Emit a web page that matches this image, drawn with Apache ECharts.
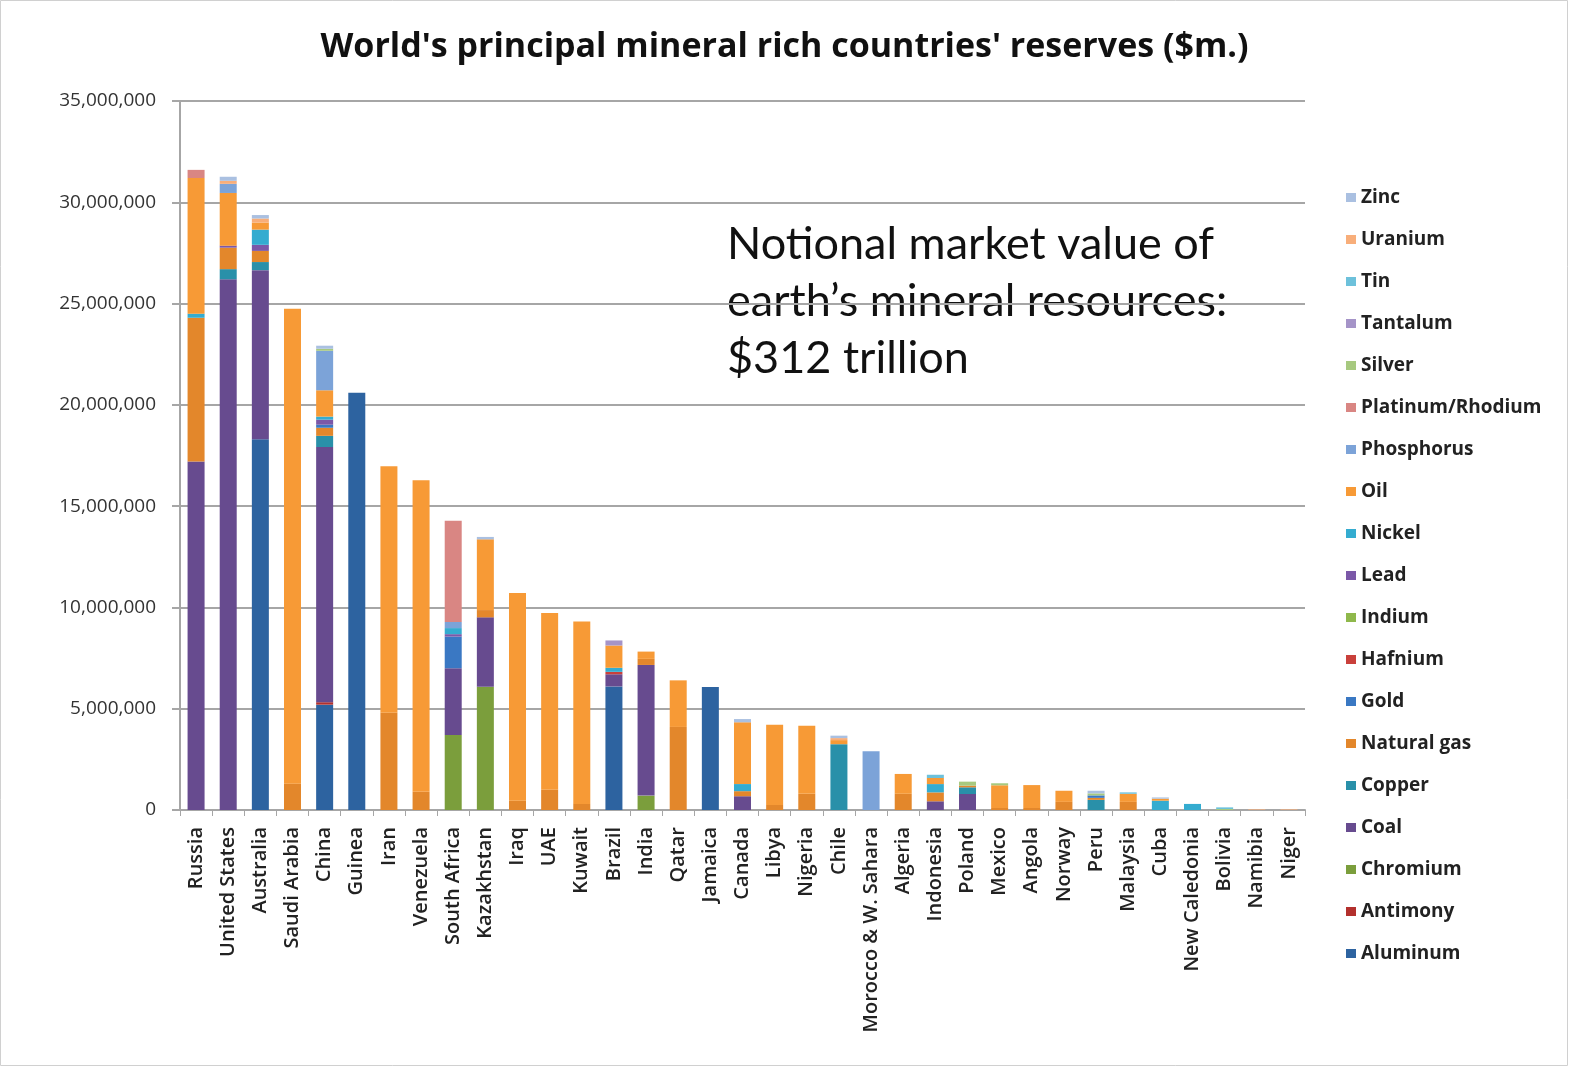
<!DOCTYPE html>
<html>
<head>
<meta charset="utf-8">
<title>World's principal mineral rich countries' reserves</title>
<script src="https://cdn.jsdelivr.net/npm/echarts@6/dist/echarts.min.js"></script>
<style>
  html, body { margin: 0; padding: 0; background: #fff; }
  #chart { width: 1569px; height: 1067px; }
</style>
</head>
<body>
<div id="chart"></div>
<script>
// values in millions of $m (axis labels show them in $m)
var countries = ['Russia', 'United States', 'Australia', 'Saudi Arabia', 'China', 'Guinea', 'Iran', 'Venezuela',
  'South Africa', 'Kazakhstan', 'Iraq', 'UAE', 'Kuwait', 'Brazil', 'India', 'Qatar', 'Jamaica', 'Canada', 'Libya',
  'Nigeria', 'Chile', 'Morocco & W. Sahara', 'Algeria', 'Indonesia', 'Poland', 'Mexico', 'Angola', 'Norway', 'Peru',
  'Malaysia', 'Cuba', 'New Caledonia', 'Bolivia', 'Namibia', 'Niger'];

var aluminum   = [0,0,18.3,0,5.2, 20.6,0,0,0,0, 0,0,0,6.1,0, 0,6.07,0,0,0, 0,0,0,0,0, 0,0,0,0,0, 0,0,0,0,0];
var antimony   = [0,0,0,0,0.12, 0,0,0,0,0, 0,0,0,0,0, 0,0,0,0,0, 0,0,0,0,0, 0,0,0,0,0, 0,0,0,0,0];
var chromium   = [0,0,0,0,0, 0,0,0,3.7,6.09, 0,0,0,0,0.71, 0,0,0,0,0, 0,0,0,0,0, 0,0,0,0,0, 0,0,0,0,0];
var coal       = [17.2,26.2,8.35,0,12.6, 0,0,0,3.3,3.42, 0,0,0,0.6,6.45, 0,0,0.68,0,0, 0,0,0,0.43,0.79, 0,0,0,0,0, 0,0,0,0,0];
var copper     = [0,0.5,0.4,0,0.55, 0,0,0,0,0, 0,0,0,0,0, 0,0,0,0,0, 3.25,0,0,0,0.33, 0,0,0,0.5,0, 0,0,0,0,0];
var naturalGas = [7.1,1.06,0.55,1.3,0.4, 0,4.8,0.9,0,0.36, 0.46,1.0,0.3,0,0.3, 4.1,0,0.25,0.25,0.8, 0,0,0.8,0.44,0.08, 0.1,0.1,0.4,0.1,0.4, 0,0,0,0,0];
var gold       = [0,0,0,0,0.15, 0,0,0,1.56,0, 0,0,0,0,0, 0,0,0,0,0, 0,0,0,0,0, 0,0,0,0.12,0, 0,0,0,0,0];
var hafnium    = [0,0,0,0,0, 0,0,0,0,0, 0,0,0,0.12,0, 0,0,0,0,0, 0,0,0,0,0, 0,0,0,0,0, 0,0,0,0,0];
var indium     = [0,0,0,0,0, 0,0,0,0,0, 0,0,0,0,0, 0,0,0,0,0, 0,0,0,0,0, 0,0,0,0,0, 0,0,0,0,0];
var lead       = [0,0.1,0.3,0,0.25, 0,0,0,0.12,0, 0,0,0,0,0, 0,0,0,0,0, 0,0,0,0,0, 0,0,0,0,0, 0,0,0,0,0];
var nickel     = [0.2,0,0.75,0,0.15, 0,0,0,0.3,0, 0,0,0,0.2,0, 0,0,0.35,0,0, 0,0,0,0.41,0, 0,0,0,0,0, 0.46,0.3,0,0,0];
var oil        = [6.7,2.6,0.35,23.45,1.3, 0,12.17,15.38,0,3.49, 10.25,8.72,9.0,1.1,0.36, 2.3,0,3.05,3.96,3.36, 0.2,0,0.98,0.3,0, 1.12,1.13,0.55,0,0.4, 0.1,0,0,0,0];
var phosphorus = [0,0.45,0,0,1.95, 0,0,0,0.3,0, 0,0,0,0,0, 0,0,0,0,0, 0,2.9,0,0,0, 0,0,0,0,0, 0,0,0,0,0];
var platinum   = [0.4,0,0,0,0, 0,0,0,5.0,0, 0,0,0,0,0, 0,0,0,0,0, 0,0,0,0,0, 0,0,0,0,0, 0,0,0,0,0];
var silver     = [0,0,0,0,0.1, 0,0,0,0,0, 0,0,0,0,0, 0,0,0,0,0, 0,0,0,0,0.2, 0.1,0,0,0.1,0, 0,0,0.05,0,0];
var tantalum   = [0,0,0,0,0, 0,0,0,0,0, 0,0,0,0.25,0, 0,0,0,0,0, 0,0,0,0,0, 0,0,0,0,0, 0,0,0,0,0];
var tin        = [0,0,0,0,0, 0,0,0,0,0, 0,0,0,0,0, 0,0,0,0,0, 0,0,0,0.16,0, 0,0,0,0,0.07, 0,0,0.08,0,0];
var uranium    = [0,0.15,0.2,0,0, 0,0,0,0,0, 0,0,0,0,0, 0,0,0,0,0, 0.1,0,0,0,0, 0,0,0,0,0, 0,0,0,0.03,0.03];
var zinc       = [0,0.2,0.17,0,0.15, 0,0,0,0,0.12, 0,0,0,0,0, 0,0,0.16,0,0, 0.12,0,0,0,0, 0,0,0,0.13,0, 0.06,0,0,0,0];

var yTicks = [0, 5, 10, 15, 20, 25, 30, 35];

// stacking order, bottom to top
var minerals = [
  { name: 'Aluminum',         data: aluminum,   color: '#2d63a0' },
  { name: 'Antimony',         data: antimony,   color: '#b3302d' },
  { name: 'Chromium',         data: chromium,   color: '#7b9e3c' },
  { name: 'Coal',             data: coal,       color: '#674b8f' },
  { name: 'Copper',           data: copper,     color: '#2990a9' },
  { name: 'Natural gas',      data: naturalGas, color: '#e3872b' },
  { name: 'Gold',             data: gold,       color: '#3a78c3' },
  { name: 'Hafnium',          data: hafnium,    color: '#c9403b' },
  { name: 'Indium',           data: indium,     color: '#8fb84b' },
  { name: 'Lead',             data: lead,       color: '#7b58a8' },
  { name: 'Nickel',           data: nickel,     color: '#34acd0' },
  { name: 'Oil',              data: oil,        color: '#f79a36' },
  { name: 'Phosphorus',       data: phosphorus, color: '#7ca3d8' },
  { name: 'Platinum/Rhodium', data: platinum,   color: '#d98683' },
  { name: 'Silver',           data: silver,     color: '#a7c97f' },
  { name: 'Tantalum',         data: tantalum,   color: '#a594c8' },
  { name: 'Tin',              data: tin,        color: '#6dc1db' },
  { name: 'Uranium',          data: uranium,    color: '#f8ae7a' },
  { name: 'Zinc',             data: zinc,       color: '#aac0e1' }
];

var chart = echarts.init(document.getElementById('chart'));

var series = minerals.map(function (m) {
  return {
    name: m.name,
    type: 'bar',
    stack: 'total',
    barWidth: 17,
    data: m.data,
    itemStyle: { color: m.color },
    emphasis: { disabled: true }
  };
});

chart.setOption({
  animation: false,
  backgroundColor: '#fff',
  title: {
    text: "World's principal mineral rich countries' reserves ($m.)",
    left: 'center',
    top: 25,
    textStyle: { fontFamily: 'Open Sans', fontSize: 34, fontWeight: 'bold', color: '#111' }
  },
  legend: {
    orient: 'vertical',
    left: 1341,
    top: 183,
    itemWidth: 10,
    itemHeight: 9,
    itemGap: 23,
    icon: 'rect',
    data: minerals.map(function (m) { return m.name; }).reverse(),
    textStyle: { fontFamily: 'Open Sans', fontSize: 19, fontWeight: 'bold', color: '#222' }
  },
  grid: { left: 180, right: 264, top: 101, bottom: 257 },
  xAxis: {
    type: 'category',
    data: countries,
    axisLine: { lineStyle: { color: '#a6a6a6', width: 2 } },
    axisTick: { show: true, length: 6, lineStyle: { color: '#a6a6a6', width: 1 } },
    axisLabel: {
      rotate: 90,
      interval: 0,
      margin: 17,
      fontFamily: 'Open Sans',
      fontSize: 20,
      fontWeight: 600,
      color: '#222'
    }
  },
  yAxis: {
    type: 'value',
    min: yTicks[0],
    max: yTicks[yTicks.length - 1],
    interval: 5,
    axisLine: { show: true, lineStyle: { color: '#a6a6a6', width: 2 } },
    axisTick: { show: true, length: 8, lineStyle: { color: '#a6a6a6', width: 2 } },
    splitLine: { lineStyle: { color: '#a6a6a6', width: 2 } },
    axisLabel: {
      margin: 24,
      fontFamily: 'Open Sans',
      fontSize: 19,
      color: '#333',
      formatter: function (v) { return (v * 1000000).toLocaleString('en-US'); }
    }
  },
  graphic: [
    {
      type: 'text',
      left: 727,
      top: 216,
      style: {
        text: 'Notional market value of\nearth\u2019s mineral resources:\n$312 trillion',
        font: '45px Lato',
        lineHeight: 57,
        fill: '#111'
      }
    },
    {
      type: 'rect',
      shape: { x: 0.5, y: 0.5, width: 1567, height: 1065 },
      style: { fill: 'none', stroke: '#d0d0d0', lineWidth: 1 },
      silent: true
    }
  ],
  series: series
});
</script>
</body>
</html>
